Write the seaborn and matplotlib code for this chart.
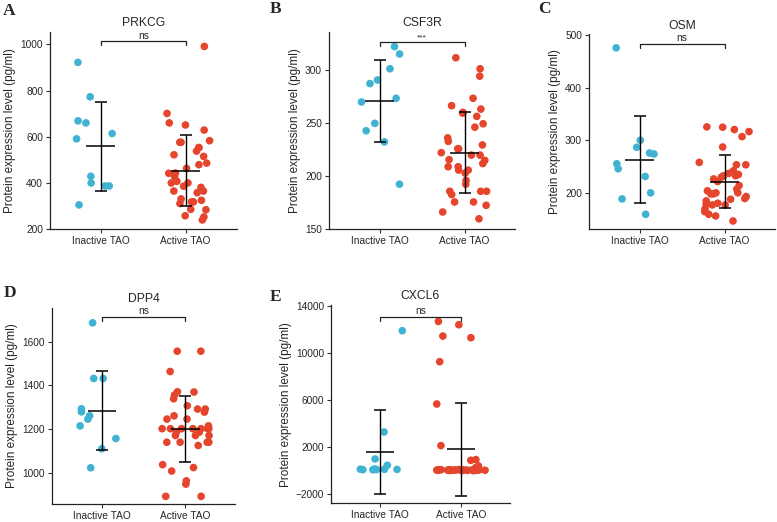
import numpy as np
import pandas as pd
import matplotlib
matplotlib.use("Agg")
import matplotlib.pyplot as plt
import matplotlib.transforms as mtransforms
import seaborn as sns

sns.set_style("ticks")
plt.rcParams['font.family'] = ['Liberation Sans', 'DejaVu Sans']

groups = ["Inactive TAO", "Active TAO"]
colors = {"Inactive TAO": "#40B3D3", "Active TAO": "#E5452C"}

# values (pg/ml)
prkcg_inactive = [922, 773, 614, 591, 660, 669, 429, 387, 400, 387, 305]
prkcg_active = [991, 701, 660, 651, 629, 553, 583, 553, 576, 576, 538, 522, 515,
                486, 479, 463, 442, 443, 427, 407, 386, 400, 400, 381, 358, 365,
                365, 318, 318, 311, 331, 325, 286, 284, 258, 240, 253]

csf3r_inactive = [322.5, 315.6, 301.6, 291, 287.6, 273.7, 270.2, 250, 243, 232.5, 192.5]
csf3r_active = [312, 301.6, 294.6, 273.7, 266.7, 263.5, 260.4, 256.6, 259.7, 249.6,
                246.4, 236.3, 233, 229.6, 226, 226, 222.3, 220, 220, 215, 215.7, 212,
                209, 209, 205.8, 205.8, 203, 196, 192.5, 185.8, 182.7, 185.8, 185.8,
                175.7, 175.7, 172.5, 166.2, 159.8]

osm_inactive = [476.4, 299.8, 286.4, 275.5, 273.6, 255, 245.4, 230.7, 199.4, 187.8, 158.4]
osm_active = [325.4, 324.8, 316.4, 306.8, 320.3, 287, 253, 253, 257.6, 241.6, 236.5,
              232, 229.4, 221, 226, 234.5, 232, 203.2, 199.4, 213.4, 206.4, 197.4,
              199.4, 197.4, 188.5, 192.3, 187.2, 184, 177.6, 179.5, 168.7, 176.3,
              176.3, 163.5, 158.4, 155.2, 145.6]

dpp4_inactive = [1687, 1432, 1432, 1293, 1279, 1261, 1246, 1215, 1157, 1110, 1023]
dpp4_active = [1557, 1557, 1464, 1371, 1370, 1356, 1339, 1278, 1307, 1292, 1292, 1261,
               1246, 1246, 1215, 1202, 1202, 1202, 1202, 1202, 1202, 1202, 1186, 1186,
               1171, 1171, 1171, 1140, 1140, 1140, 1140, 1140, 1125, 1037, 1024, 1008,
               963, 948, 892, 892]

cxcl6_inactive = [11880, 3286, 996, 459, 150, 120, 100, 90, 110, 80, 130]
cxcl6_active = [12671, 12389, 11428, 11286, 9251, 5661, 2127, 940, 883, 403, 261,
                50, 20, 80, 40, 60, 30, 90, 10, 70, 50, 40, 60, 20, 80, 100, 30, 50,
                70, 40, 60, 20, 90, 50, 30, 60, 40, 80]

panels = [
    ("A", "PRKCG", prkcg_inactive, prkcg_active, "ns", [200, 400, 600, 800, 1000], (200, 1052)),
    ("B", "CSF3R", csf3r_inactive, csf3r_active, "***", [150, 200, 250, 300], (150, 336)),
    ("C", "OSM", osm_inactive, osm_active, "ns", [200, 300, 400, 500], (130, 502)),
    ("D", "DPP4", dpp4_inactive, dpp4_active, "ns", [1000, 1200, 1400, 1600], (857, 1755)),
    ("E", "CXCL6", cxcl6_inactive, cxcl6_active, "ns", [-2000, 2000, 6000, 10000, 14000], (-2740, 14050)),
]

# axes boxes in figure fraction, and panel letter spots
boxes = [
    [0.0644, 0.561, 0.240, 0.377],
    [0.4234, 0.561, 0.240, 0.377],
    [0.758, 0.561, 0.240, 0.373],
    [0.0669, 0.0345, 0.236, 0.3755],
    [0.426, 0.0364, 0.230, 0.379],
]
letter_pos = [(0.0116, 0.979), (0.354, 0.983), (0.701, 0.983), (0.0129, 0.439), (0.355, 0.431)]
bracket_y = [0.955, 0.952, 0.952, 0.954, 0.942]

fig = plt.figure(figsize=(7.77, 5.22), dpi=100)
np.random.seed(21)

for (letter, gene, inact, act, sig, yticks, ylim), box, lp, by in zip(panels, boxes, letter_pos, bracket_y):
    ax = fig.add_axes(box)
    df = pd.DataFrame({
        "group": ["Inactive TAO"] * len(inact) + ["Active TAO"] * len(act),
        "value": inact + act,
    })
    sns.stripplot(data=df, x="group", y="value", hue="group", order=groups,
                  hue_order=groups, palette=colors, jitter=0.3, size=5.5,
                  linewidth=0, legend=False, ax=ax, zorder=2)

    stats = df.groupby("group")["value"].agg(["mean", "std"]).reindex(groups)
    for i, g in enumerate(groups):
        m, s = stats.loc[g, "mean"], stats.loc[g, "std"]
        ax.hlines(m, i - 0.17, i + 0.17, color="black", lw=1.1, zorder=3)
        ax.errorbar(i, m, yerr=s, color="black", lw=1.0, capsize=4.5,
                    capthick=1.1, zorder=3)

    ax.set_xlim(-0.6, 1.6)
    ax.set_ylim(*ylim)
    ax.set_yticks(yticks)
    ax.set_xlabel("")
    ax.set_ylabel("Protein expression level (pg/ml)", fontsize=8.5, labelpad=3)
    ax.tick_params(labelsize=7.3, length=3, width=0.8, color="#333333", pad=2)
    sns.despine(ax=ax)
    for sp in ["left", "bottom"]:
        ax.spines[sp].set_linewidth(0.9)
        ax.spines[sp].set_color("#222222")

    trans = mtransforms.blended_transform_factory(ax.transData, ax.transAxes)
    ax.plot([0, 0, 1, 1], [by - 0.02, by, by, by - 0.02], color="#222222",
            lw=0.9, transform=trans, clip_on=False)
    ax.text(0.5, by + 0.003, sig, ha="center", va="bottom",
            fontsize=7.3 if sig == "ns" else 6, transform=trans)
    ax.text(0.5, 1.015, gene, ha="center", va="bottom", fontsize=8.7, transform=trans)

    fig.text(lp[0], lp[1], letter, ha="center", va="center", fontsize=12.5,
             fontweight="bold", family=["Liberation Serif", "DejaVu Serif"])

fig.savefig("out.png", dpi=100)
